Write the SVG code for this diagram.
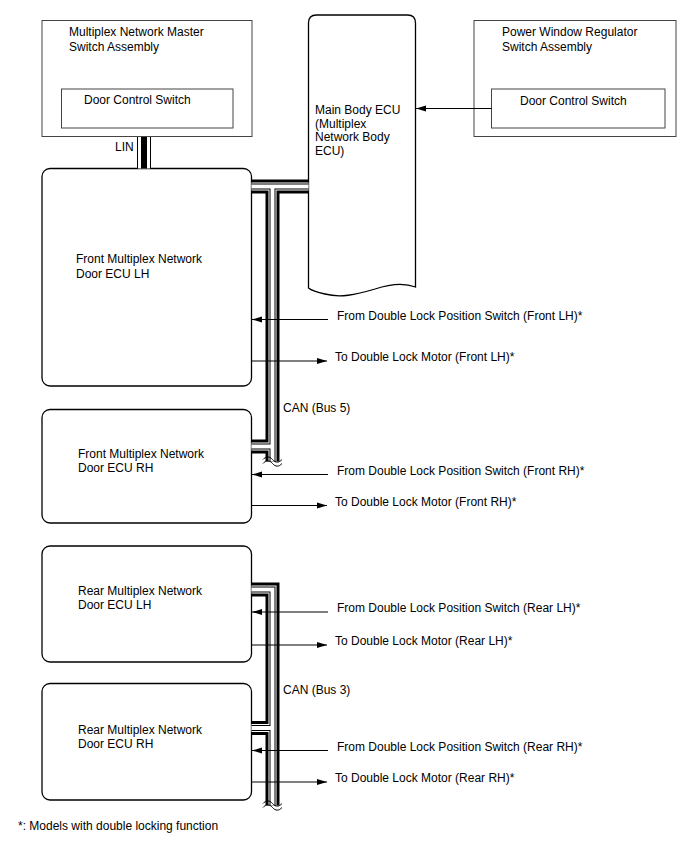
<svg xmlns="http://www.w3.org/2000/svg" width="688" height="852" viewBox="0 0 688 852">
<style>
text{font-family:"Liberation Sans",Arial,sans-serif;font-size:12px;fill:#000}
.box{fill:#fff;stroke:#444;stroke-width:1}
.ecu{fill:#fff;stroke:#000;stroke-width:1.3}
.b1{fill:none;stroke:#000;stroke-width:14}
.b2{fill:none;stroke:#fff;stroke-width:8}
.b3{fill:none;stroke:#000;stroke-width:6}
.b4{fill:none;stroke:#fff;stroke-width:4}
.l1{fill:none;stroke:#000;stroke-width:14}
.l2{fill:none;stroke:#fff;stroke-width:12}
.l3{fill:none;stroke:#000;stroke-width:6}
.arr{fill:none;stroke:#000;stroke-width:1.2;marker-end:url(#ah)}
.wave{fill:none;stroke:#000;stroke-width:1}
</style>
<defs>
<marker id="ah" markerUnits="userSpaceOnUse" markerWidth="11" markerHeight="7" refX="10" refY="3.5" orient="auto" viewBox="0 0 11 7"><path d="M0,0.5 L10,3.5 L0,6.5 z" fill="#000"/></marker>
<path id="bus5" d="M251.5,186.5 H308.5 M272.5,186.5 V461.5 M251.5,446.5 H272.5"/>
<path id="bus3" d="M251.5,589.5 H272.5 V805.5 M251.5,728 H272.5"/>
<path id="lin" d="M144,137 V168.5"/>
</defs>

<g id="master-switch">
<rect class="box" x="42" y="20.5" width="210" height="116"/>
<text x="69" y="36">Multiplex Network Master</text>
<text x="69" y="51">Switch Assembly</text>
<rect class="box" x="61.5" y="89" width="171.5" height="39"/>
<text x="84" y="104">Door Control Switch</text>
</g>

<g id="pw-switch">
<rect class="box" x="474" y="20.5" width="202" height="116"/>
<text x="502" y="36">Power Window Regulator</text>
<text x="502" y="51">Switch Assembly</text>
<rect class="box" x="491.5" y="89" width="173.5" height="39"/>
<text x="520" y="105">Door Control Switch</text>
</g>

<g id="main-body-ecu">
<path class="ecu" d="M308.5,288 V23 Q308.5,15 316.5,15 H407.5 Q415.5,15 415.5,23 V287 C405,283 390,284 375,289 C355,295 340,298 325,294 C316,292 311,290 308.5,288 Z"/>
<text x="315" y="114">Main Body ECU</text>
<text x="315" y="127.5">(Multiplex</text>
<text x="315" y="141">Network Body</text>
<text x="315" y="154.5">ECU)</text>
</g>

<g id="front-lh">
<rect class="ecu" x="42" y="168.5" width="209.5" height="217.5" rx="8"/>
<text x="76" y="263">Front Multiplex Network</text>
<text x="76" y="278">Door ECU LH</text>
</g>

<g id="front-rh">
<rect class="ecu" x="42" y="409.5" width="209.5" height="113.5" rx="8"/>
<text x="78" y="458">Front Multiplex Network</text>
<text x="78" y="472">Door ECU RH</text>
</g>

<g id="rear-lh">
<rect class="ecu" x="42" y="546" width="209.5" height="116" rx="8"/>
<text x="78" y="595">Rear Multiplex Network</text>
<text x="78" y="609">Door ECU LH</text>
</g>

<g id="rear-rh">
<rect class="ecu" x="42" y="683.5" width="209.5" height="116.5" rx="8"/>
<text x="78" y="734">Rear Multiplex Network</text>
<text x="78" y="748">Door ECU RH</text>
</g>

<g id="connectors">
<use href="#lin" class="l1"/>
<use href="#lin" class="l2"/>
<use href="#lin" class="l3"/>
<text x="115" y="151">LIN</text>

<use href="#bus5" class="b1"/>
<use href="#bus5" class="b2"/>
<use href="#bus5" class="b3"/>
<use href="#bus5" class="b4"/>
<path class="wave" d="M263,459.5 c3,-3.5 6.5,-3.5 9.5,0 s6.5,3.5 9.5,0"/>
<path class="wave" d="M263,463.5 c3,-3.5 6.5,-3.5 9.5,0 s6.5,3.5 9.5,0"/>
<text x="283" y="412">CAN (Bus 5)</text>

<use href="#bus3" class="b1"/>
<use href="#bus3" class="b2"/>
<use href="#bus3" class="b3"/>
<use href="#bus3" class="b4"/>
<path class="wave" d="M263,803.5 c3,-3.5 6.5,-3.5 9.5,0 s6.5,3.5 9.5,0"/>
<path class="wave" d="M263,807.5 c3,-3.5 6.5,-3.5 9.5,0 s6.5,3.5 9.5,0"/>
<text x="283" y="694">CAN (Bus 3)</text>

<line class="arr" x1="491.5" y1="108.5" x2="416" y2="108.5"/>

<line class="arr" x1="328" y1="319.5" x2="252" y2="319.5"/>
<text x="337" y="319.5">From Double Lock Position Switch (Front LH)*</text>
<line class="arr" x1="252" y1="361" x2="327" y2="361"/>
<text x="335" y="361">To Double Lock Motor (Front LH)*</text>

<line class="arr" x1="328" y1="474.5" x2="252" y2="474.5"/>
<text x="337" y="474.5">From Double Lock Position Switch (Front RH)*</text>
<line class="arr" x1="252" y1="505.5" x2="327" y2="505.5"/>
<text x="335" y="505.5">To Double Lock Motor (Front RH)*</text>

<line class="arr" x1="328" y1="612" x2="252" y2="612"/>
<text x="337" y="612">From Double Lock Position Switch (Rear LH)*</text>
<line class="arr" x1="252" y1="645" x2="327" y2="645"/>
<text x="335" y="645">To Double Lock Motor (Rear LH)*</text>

<line class="arr" x1="328" y1="750.5" x2="252" y2="750.5"/>
<text x="337" y="750.5">From Double Lock Position Switch (Rear RH)*</text>
<line class="arr" x1="252" y1="782" x2="327" y2="782"/>
<text x="335" y="782">To Double Lock Motor (Rear RH)*</text>
</g>

<text x="18" y="830">*: Models with double locking function</text>
</svg>
